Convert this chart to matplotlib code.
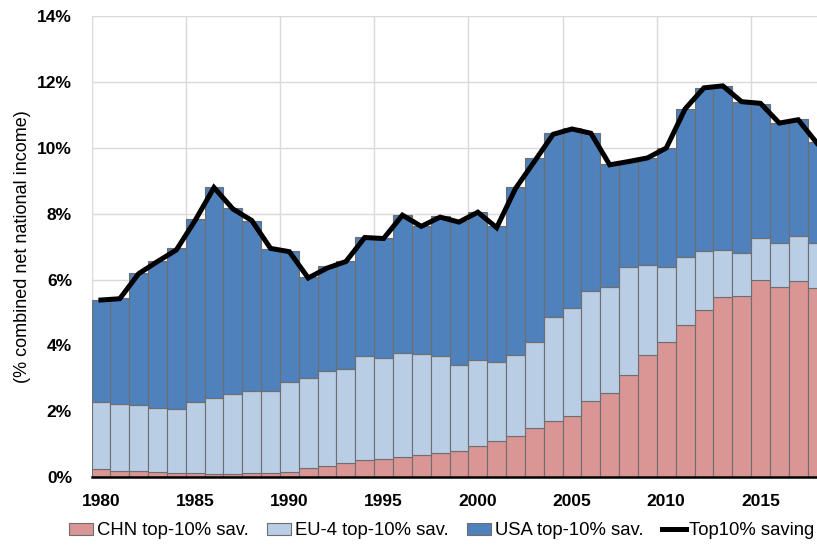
import matplotlib.pyplot as plt
import numpy as np

plt.rcParams['font.family'] = ['Liberation Sans', 'DejaVu Sans']

years = np.arange(1980, 2019)

# shares in % of combined net national income
chn = [0.23, 0.19, 0.19, 0.14, 0.11, 0.11, 0.09, 0.09, 0.11, 0.11,
       0.16, 0.26, 0.33, 0.41, 0.52, 0.55, 0.61, 0.67, 0.72, 0.79,
       0.93, 1.09, 1.26, 1.49, 1.70, 1.85, 2.32, 2.56, 3.09, 3.71,
       4.09, 4.62, 5.08, 5.46, 5.49, 5.99, 5.77, 5.96, 5.75]
eu4 = [2.06, 2.02, 1.99, 1.95, 1.95, 2.18, 2.30, 2.44, 2.50, 2.50,
       2.72, 2.75, 2.90, 2.88, 3.17, 3.06, 3.16, 3.07, 2.95, 2.61,
       2.63, 2.41, 2.46, 2.61, 3.15, 3.28, 3.32, 3.23, 3.30, 2.73,
       2.30, 2.07, 1.78, 1.44, 1.33, 1.29, 1.35, 1.37, 1.37]
usa = [3.09, 3.23, 4.02, 4.48, 4.89, 5.55, 6.44, 5.64, 5.18, 4.33,
       4.00, 3.07, 3.18, 3.28, 3.60, 3.65, 4.19, 3.90, 4.25, 4.37,
       4.49, 4.12, 5.09, 5.61, 5.60, 5.47, 4.81, 3.72, 3.18, 3.26,
       3.61, 4.50, 4.97, 5.00, 4.58, 4.06, 3.64, 3.55, 3.06]
top10 = [5.38, 5.42, 6.18, 6.55, 6.90, 7.80, 8.80, 8.15, 7.80, 6.95,
         6.85, 6.05, 6.35, 6.55, 7.28, 7.25, 7.96, 7.62, 7.90, 7.75,
         8.05, 7.58, 8.77, 9.59, 10.42, 10.58, 10.45, 9.49, 9.59, 9.70,
         10.00, 11.19, 11.83, 11.89, 11.41, 11.36, 10.76, 10.86, 10.15]

chn = np.array(chn)
eu4 = np.array(eu4)
usa = np.array(usa)

fig = plt.figure(figsize=(8.17, 5.46), dpi=100)
ax = fig.add_axes([0.112, 0.1264, 0.888, 0.8434])

edge = '#6e6e6e'
b1 = ax.bar(years, chn, width=1.0, color='#DA9694', edgecolor=edge, linewidth=0.8,
            label='CHN top-10% sav.', zorder=2)
b2 = ax.bar(years, eu4, width=1.0, bottom=chn, color='#B9CDE5', edgecolor=edge,
            linewidth=0.8, label='EU-4 top-10% sav.', zorder=2)
b3 = ax.bar(years, usa, width=1.0, bottom=chn + eu4, color='#4F81BD', edgecolor=edge,
            linewidth=0.8, label='USA top-10% sav.', zorder=2)
l1, = ax.plot(years, top10, color='black', linewidth=3.6, label='Top10% saving',
              zorder=3, solid_joinstyle='miter')

ax.set_xlim(1979.5, 2018)
ax.set_ylim(0, 14)
ax.set_yticks(np.arange(0, 15, 2))
ax.set_yticklabels(['%d%%' % v for v in range(0, 15, 2)])
ax.set_xticks(np.arange(1980, 2016, 5))
ax.set_xticks(np.arange(1979.5, 2018, 5), minor=True)

ax.grid(axis='y', which='major', color='#d9d9d9', linewidth=1, zorder=0)
ax.grid(axis='x', which='minor', color='#d9d9d9', linewidth=1, zorder=0)
ax.set_axisbelow(True)

for s in ['top', 'right', 'left']:
    ax.spines[s].set_visible(False)
ax.spines['bottom'].set_linewidth(1.8)
ax.spines['bottom'].set_zorder(4)

ax.tick_params(axis='both', which='both', length=0)
ax.tick_params(axis='y', pad=14, labelsize=12.5)
ax.tick_params(axis='x', pad=12, labelsize=12.5)
for t in ax.get_xticklabels() + ax.get_yticklabels():
    t.set_fontweight('bold')

ax.set_ylabel('(% combined net national income)', fontsize=13)
ax.yaxis.set_label_coords(-0.083, 0.5)

fig.legend(handles=[b1, b2, b3, l1], loc='center', bbox_to_anchor=(0.541, 0.028),
           ncol=4, frameon=False, fontsize=13.3, handlelength=1.3, handletextpad=0.2,
           columnspacing=1.0, handleheight=0.6, borderaxespad=0, borderpad=0)

plt.savefig('out.png', dpi=100)
